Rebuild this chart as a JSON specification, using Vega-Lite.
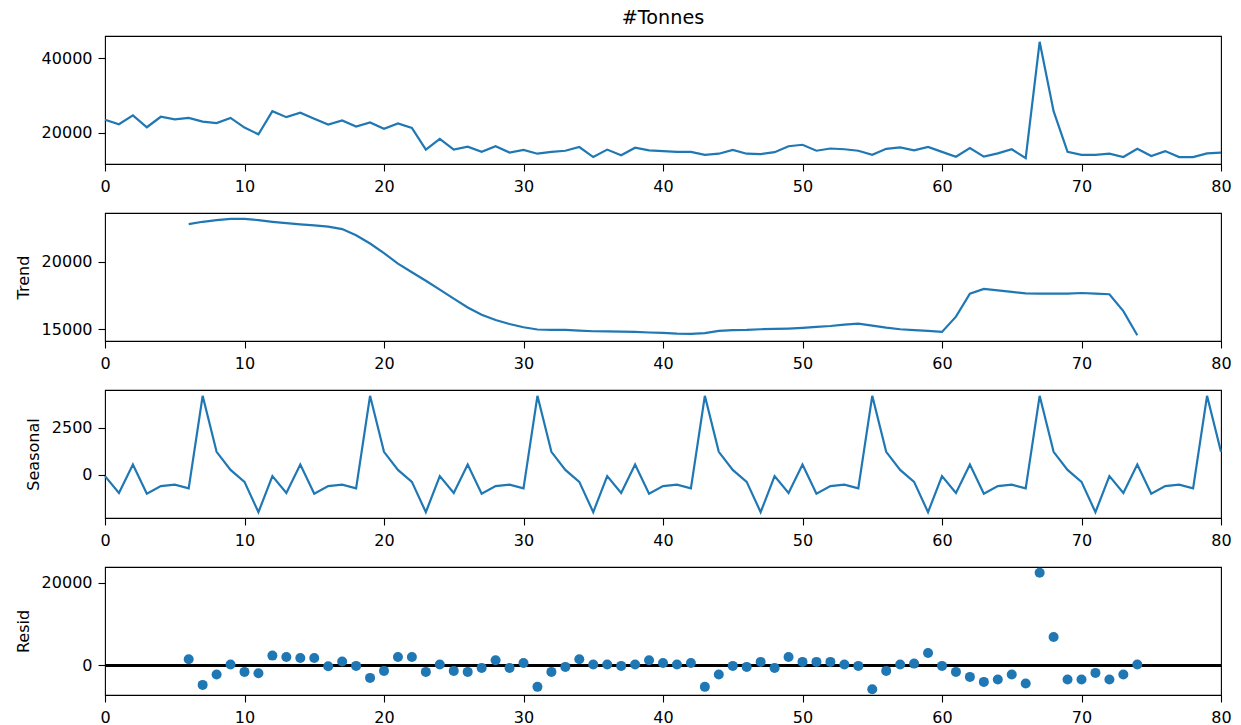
{
  "$schema": "https://vega.github.io/schema/vega-lite/v6.json",
  "background": "white",
  "padding": {"left": 14, "top": 8, "right": 0, "bottom": 0},
  "spacing": 49,
  "bounds": "flush",
  "datasets": {
    "observed": [
      {"t": 0, "v": 23500}, {"t": 1, "v": 22300}, {"t": 2, "v": 24700}, {"t": 3, "v": 21500}, {"t": 4, "v": 24300},
      {"t": 5, "v": 23600}, {"t": 6, "v": 24000}, {"t": 7, "v": 23000}, {"t": 8, "v": 22600}, {"t": 9, "v": 24000},
      {"t": 10, "v": 21400}, {"t": 11, "v": 19600}, {"t": 12, "v": 25800}, {"t": 13, "v": 24200}, {"t": 14, "v": 25400},
      {"t": 15, "v": 23800}, {"t": 16, "v": 22200}, {"t": 17, "v": 23300}, {"t": 18, "v": 21700}, {"t": 19, "v": 22800},
      {"t": 20, "v": 21100}, {"t": 21, "v": 22500}, {"t": 22, "v": 21300}, {"t": 23, "v": 15500}, {"t": 24, "v": 18400},
      {"t": 25, "v": 15500}, {"t": 26, "v": 16300}, {"t": 27, "v": 14900}, {"t": 28, "v": 16400}, {"t": 29, "v": 14700},
      {"t": 30, "v": 15400}, {"t": 31, "v": 14400}, {"t": 32, "v": 14900}, {"t": 33, "v": 15200}, {"t": 34, "v": 16200},
      {"t": 35, "v": 13500}, {"t": 36, "v": 15500}, {"t": 37, "v": 14000}, {"t": 38, "v": 16000}, {"t": 39, "v": 15300},
      {"t": 40, "v": 15100}, {"t": 41, "v": 14900}, {"t": 42, "v": 14900}, {"t": 43, "v": 14100}, {"t": 44, "v": 14400},
      {"t": 45, "v": 15400}, {"t": 46, "v": 14400}, {"t": 47, "v": 14300}, {"t": 48, "v": 14800}, {"t": 49, "v": 16400},
      {"t": 50, "v": 16800}, {"t": 51, "v": 15200}, {"t": 52, "v": 15800}, {"t": 53, "v": 15600}, {"t": 54, "v": 15200},
      {"t": 55, "v": 14100}, {"t": 56, "v": 15700}, {"t": 57, "v": 16100}, {"t": 58, "v": 15300}, {"t": 59, "v": 16200},
      {"t": 60, "v": 14900}, {"t": 61, "v": 13600}, {"t": 62, "v": 15900}, {"t": 63, "v": 13600}, {"t": 64, "v": 14500},
      {"t": 65, "v": 15600}, {"t": 66, "v": 13200}, {"t": 67, "v": 44400}, {"t": 68, "v": 25800}, {"t": 69, "v": 14900},
      {"t": 70, "v": 14100}, {"t": 71, "v": 14100}, {"t": 72, "v": 14400}, {"t": 73, "v": 13500}, {"t": 74, "v": 15700},
      {"t": 75, "v": 13800}, {"t": 76, "v": 15100}, {"t": 77, "v": 13500}, {"t": 78, "v": 13500}, {"t": 79, "v": 14500},
      {"t": 80, "v": 14700}
    ],
    "trend": [
      {"t": 6, "v": 22780}, {"t": 7, "v": 22950}, {"t": 8, "v": 23070}, {"t": 9, "v": 23170}, {"t": 10, "v": 23170},
      {"t": 11, "v": 23070}, {"t": 12, "v": 22950}, {"t": 13, "v": 22850}, {"t": 14, "v": 22760}, {"t": 15, "v": 22680},
      {"t": 16, "v": 22590}, {"t": 17, "v": 22410}, {"t": 18, "v": 21950}, {"t": 19, "v": 21340}, {"t": 20, "v": 20630},
      {"t": 21, "v": 19850}, {"t": 22, "v": 19220}, {"t": 23, "v": 18590}, {"t": 24, "v": 17930}, {"t": 25, "v": 17270},
      {"t": 26, "v": 16610}, {"t": 27, "v": 16070}, {"t": 28, "v": 15680}, {"t": 29, "v": 15390}, {"t": 30, "v": 15150},
      {"t": 31, "v": 14980}, {"t": 32, "v": 14950}, {"t": 33, "v": 14950}, {"t": 34, "v": 14900}, {"t": 35, "v": 14850},
      {"t": 36, "v": 14840}, {"t": 37, "v": 14830}, {"t": 38, "v": 14800}, {"t": 39, "v": 14760}, {"t": 40, "v": 14730},
      {"t": 41, "v": 14680}, {"t": 42, "v": 14660}, {"t": 43, "v": 14710}, {"t": 44, "v": 14880}, {"t": 45, "v": 14930},
      {"t": 46, "v": 14950}, {"t": 47, "v": 15000}, {"t": 48, "v": 15020}, {"t": 49, "v": 15050}, {"t": 50, "v": 15100},
      {"t": 51, "v": 15170}, {"t": 52, "v": 15240}, {"t": 53, "v": 15340}, {"t": 54, "v": 15410}, {"t": 55, "v": 15270},
      {"t": 56, "v": 15120}, {"t": 57, "v": 15000}, {"t": 58, "v": 14930}, {"t": 59, "v": 14880}, {"t": 60, "v": 14800},
      {"t": 61, "v": 15930}, {"t": 62, "v": 17630}, {"t": 63, "v": 17980}, {"t": 64, "v": 17880}, {"t": 65, "v": 17760},
      {"t": 66, "v": 17660}, {"t": 67, "v": 17630}, {"t": 68, "v": 17630}, {"t": 69, "v": 17630}, {"t": 70, "v": 17680},
      {"t": 71, "v": 17630}, {"t": 72, "v": 17590}, {"t": 73, "v": 16340}, {"t": 74, "v": 14560}
    ],
    "seasonal": [
      {"t": 0, "v": -60}, {"t": 1, "v": -960}, {"t": 2, "v": 560}, {"t": 3, "v": -1000}, {"t": 4, "v": -590}, {"t": 5, "v": -520},
      {"t": 6, "v": -710}, {"t": 7, "v": 4210}, {"t": 8, "v": 1230}, {"t": 9, "v": 270}, {"t": 10, "v": -370}, {"t": 11, "v": -1980},
      {"t": 12, "v": -60}, {"t": 13, "v": -960}, {"t": 14, "v": 560}, {"t": 15, "v": -1000}, {"t": 16, "v": -590}, {"t": 17, "v": -520},
      {"t": 18, "v": -710}, {"t": 19, "v": 4210}, {"t": 20, "v": 1230}, {"t": 21, "v": 270}, {"t": 22, "v": -370}, {"t": 23, "v": -1980},
      {"t": 24, "v": -60}, {"t": 25, "v": -960}, {"t": 26, "v": 560}, {"t": 27, "v": -1000}, {"t": 28, "v": -590}, {"t": 29, "v": -520},
      {"t": 30, "v": -710}, {"t": 31, "v": 4210}, {"t": 32, "v": 1230}, {"t": 33, "v": 270}, {"t": 34, "v": -370}, {"t": 35, "v": -1980},
      {"t": 36, "v": -60}, {"t": 37, "v": -960}, {"t": 38, "v": 560}, {"t": 39, "v": -1000}, {"t": 40, "v": -590}, {"t": 41, "v": -520},
      {"t": 42, "v": -710}, {"t": 43, "v": 4210}, {"t": 44, "v": 1230}, {"t": 45, "v": 270}, {"t": 46, "v": -370}, {"t": 47, "v": -1980},
      {"t": 48, "v": -60}, {"t": 49, "v": -960}, {"t": 50, "v": 560}, {"t": 51, "v": -1000}, {"t": 52, "v": -590}, {"t": 53, "v": -520},
      {"t": 54, "v": -710}, {"t": 55, "v": 4210}, {"t": 56, "v": 1230}, {"t": 57, "v": 270}, {"t": 58, "v": -370}, {"t": 59, "v": -1980},
      {"t": 60, "v": -60}, {"t": 61, "v": -960}, {"t": 62, "v": 560}, {"t": 63, "v": -1000}, {"t": 64, "v": -590}, {"t": 65, "v": -520},
      {"t": 66, "v": -710}, {"t": 67, "v": 4210}, {"t": 68, "v": 1230}, {"t": 69, "v": 270}, {"t": 70, "v": -370}, {"t": 71, "v": -1980},
      {"t": 72, "v": -60}, {"t": 73, "v": -960}, {"t": 74, "v": 560}, {"t": 75, "v": -1000}, {"t": 76, "v": -590}, {"t": 77, "v": -520},
      {"t": 78, "v": -710}, {"t": 79, "v": 4210}, {"t": 80, "v": 1230}
    ],
    "resid": [
      {"t": 6, "v": 1450}, {"t": 7, "v": -4760}, {"t": 8, "v": -2260}, {"t": 9, "v": 160}, {"t": 10, "v": -1610},
      {"t": 11, "v": -1930}, {"t": 12, "v": 2340}, {"t": 13, "v": 2020}, {"t": 14, "v": 1770}, {"t": 15, "v": 1770},
      {"t": 16, "v": -240}, {"t": 17, "v": 890}, {"t": 18, "v": -160}, {"t": 19, "v": -3060}, {"t": 20, "v": -1370},
      {"t": 21, "v": 2020}, {"t": 22, "v": 2020}, {"t": 23, "v": -1610}, {"t": 24, "v": 160}, {"t": 25, "v": -1370},
      {"t": 26, "v": -1610}, {"t": 27, "v": -640}, {"t": 28, "v": 1210}, {"t": 29, "v": -640}, {"t": 30, "v": 560},
      {"t": 31, "v": -5240}, {"t": 32, "v": -1610}, {"t": 33, "v": -400}, {"t": 34, "v": 1450}, {"t": 35, "v": 160},
      {"t": 36, "v": 160}, {"t": 37, "v": -160}, {"t": 38, "v": 160}, {"t": 39, "v": 1210}, {"t": 40, "v": 560},
      {"t": 41, "v": 160}, {"t": 42, "v": 560}, {"t": 43, "v": -5240}, {"t": 44, "v": -2260}, {"t": 45, "v": -160},
      {"t": 46, "v": -400}, {"t": 47, "v": 810}, {"t": 48, "v": -640}, {"t": 49, "v": 2020}, {"t": 50, "v": 810},
      {"t": 51, "v": 810}, {"t": 52, "v": 810}, {"t": 53, "v": 160}, {"t": 54, "v": -160}, {"t": 55, "v": -5800},
      {"t": 56, "v": -1370}, {"t": 57, "v": 160}, {"t": 58, "v": 400}, {"t": 59, "v": 2980}, {"t": 60, "v": -160},
      {"t": 61, "v": -1610}, {"t": 62, "v": -2820}, {"t": 63, "v": -4030}, {"t": 64, "v": -3470}, {"t": 65, "v": -2260},
      {"t": 66, "v": -4430}, {"t": 67, "v": 22400}, {"t": 68, "v": 6850}, {"t": 69, "v": -3470}, {"t": 70, "v": -3470},
      {"t": 71, "v": -1850}, {"t": 72, "v": -3470}, {"t": 73, "v": -2260}, {"t": 74, "v": 160}
    ]
  },
  "vconcat": [
    {
      "width": 1116,
      "height": 128,
      "title": {"text": "#Tonnes", "anchor": "middle", "offset": 8},
      "data": {"name": "observed"},
      "mark": {"type": "line", "color": "#1f77b4", "strokeWidth": 2.2},
      "encoding": {
        "x": {"field": "t", "type": "quantitative", "title": null,
              "scale": {"domain": [0, 80], "nice": false, "zero": false},
              "axis": {"values": [0, 10, 20, 30, 40, 50, 60, 70, 80], "format": "d", "labelFlush": false, "labelOverlap": false, "labelPadding": 7}},
        "y": {"field": "v", "type": "quantitative", "title": null,
              "scale": {"domain": [11640, 45960], "nice": false, "zero": false},
              "axis": {"values": [20000, 40000], "format": "d", "labelOverlap": false}}
      }
    },
    {
      "width": 1116,
      "height": 128,
      "data": {"name": "trend"},
      "mark": {"type": "line", "color": "#1f77b4", "strokeWidth": 2.2},
      "encoding": {
        "x": {"field": "t", "type": "quantitative", "title": null,
              "scale": {"domain": [0, 80], "nice": false, "zero": false},
              "axis": {"values": [0, 10, 20, 30, 40, 50, 60, 70, 80], "format": "d", "labelFlush": false, "labelOverlap": false, "labelPadding": 7}},
        "y": {"field": "v", "type": "quantitative", "title": "Trend",
              "scale": {"domain": [14130, 23600], "nice": false, "zero": false},
              "axis": {"values": [15000, 20000], "format": "d", "labelOverlap": false}}
      }
    },
    {
      "width": 1116,
      "height": 128,
      "data": {"name": "seasonal"},
      "mark": {"type": "line", "color": "#1f77b4", "strokeWidth": 2.2},
      "encoding": {
        "x": {"field": "t", "type": "quantitative", "title": null,
              "scale": {"domain": [0, 80], "nice": false, "zero": false},
              "axis": {"values": [0, 10, 20, 30, 40, 50, 60, 70, 80], "format": "d", "labelFlush": false, "labelOverlap": false, "labelPadding": 7}},
        "y": {"field": "v", "type": "quantitative", "title": "Seasonal",
              "scale": {"domain": [-2290, 4520], "nice": false, "zero": false},
              "axis": {"values": [0, 2500], "format": "d", "labelOverlap": false}}
      }
    },
    {
      "width": 1116,
      "height": 128,
      "data": {"name": "resid"},
      "encoding": {
        "x": {"field": "t", "type": "quantitative", "title": null,
              "scale": {"domain": [0, 80], "nice": false, "zero": false},
              "axis": {"values": [0, 10, 20, 30, 40, 50, 60, 70, 80], "format": "d", "labelFlush": false, "labelOverlap": false, "labelPadding": 7}},
        "y": {"field": "v", "type": "quantitative", "title": "Resid",
              "scale": {"domain": [-7210, 23810], "nice": false, "zero": false},
              "axis": {"values": [0, 20000], "format": "d", "labelOverlap": false}}
      },
      "layer": [
        {
          "mark": {"type": "rule", "color": "black", "strokeWidth": 2},
          "encoding": {"x": null, "y": {"datum": 0}}
        },
        {
          "mark": {"type": "circle", "color": "#1f77b4", "opacity": 1, "size": 100}
        }
      ]
    }
  ],
  "config": {
    "font": "DejaVu Sans",
    "view": {"stroke": "black", "strokeWidth": 1.1},
    "axis": {
      "domain": false,
      "grid": false,
      "ticks": true,
      "tickColor": "black",
      "tickSize": 7,
      "tickWidth": 1.1,
      "labelColor": "black",
      "labelFont": "DejaVu Sans",
      "labelFontSize": 16,
      "labelPadding": 6,
      "titleFont": "DejaVu Sans",
      "titleFontSize": 16,
      "titleFontWeight": "normal",
      "titleColor": "black",
      "titlePadding": 10
    },
    "title": {"font": "DejaVu Sans", "fontSize": 19.2, "fontWeight": "normal", "color": "black"}
  }
}
